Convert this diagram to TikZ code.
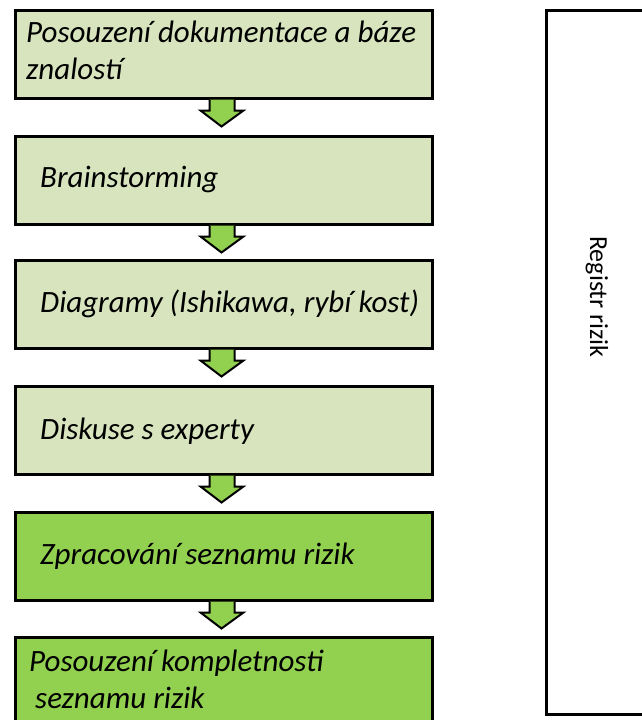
\documentclass[tikz,border=0pt]{standalone}
\usepackage{fontspec}
\setmainfont{Carlito}
\usetikzlibrary{calc}
\definecolor{palegreen}{HTML}{D7E4BD}
\definecolor{leafgreen}{HTML}{92D050}
\tikzset{
  stagebox/.style={draw=black, line width=3pt, fill=palegreen, minimum width=417pt,
    minimum height=88pt, inner sep=0pt, anchor=north west},
  finalbox/.style={stagebox, fill=leafgreen},
  stagetext/.style={font=\fontsize{31}{37}\selectfont\itshape, align=left, anchor=west, inner sep=0pt},
  blockarrow/.style={draw=black, line width=2pt, fill=leafgreen, line join=miter},
}
% block arrow hanging from the lower edge of box #1 down to box #2
\newcommand\stagearrow[2]{%
  \draw[blockarrow] ($(#1.south)+(-14,0)$) -- ++(0,11) -- ++(-9,0)
    -- ($(#1.south)+(-2,27)$) -- ($(#1.south)+(20,11)$) -- ++(-9,0)
    -- ($(#1.south)+(11,0)$);
}
\begin{document}
\begin{tikzpicture}[x=1pt,y=-1pt]
\useasboundingbox (0,0) rectangle (641,720);
% register box on the right
\node[draw=black, line width=3pt, minimum width=130pt, minimum height=704pt, inner sep=0pt,
  anchor=north west] (reg) at (544.5,8.5) {};
\node[font=\fontsize{26}{30}\selectfont, rotate=-90, inner sep=0pt] (regtext) at (597,297) {Registr rizik};
% process boxes
\node[stagebox] (b1) at (13.5,8.5) {};
\node[stagebox] (b2) at (13.5,134.5) {};
\node[stagebox] (b3) at (13.5,258.5) {};
\node[stagebox] (b4) at (13.5,384.5) {};
\node[finalbox] (b5) at (13.5,510.5) {};
\node[finalbox, minimum height=120pt] (b6) at (13.5,635.5) {};
\stagearrow{b1}{b2}
\stagearrow{b2}{b3}
\stagearrow{b3}{b4}
\stagearrow{b4}{b5}
\stagearrow{b5}{b6}
% labels
\node[stagetext] (t1) at (26,50) {Posouzení dokumentace a báze\\znalostí};
\node[stagetext] (t2) at (40,179) {Brainstorming};
\node[stagetext] (t3) at (40,304) {Diagramy (Ishikawa, rybí kost)};
\node[stagetext] (t4) at (40,431) {Diskuse s experty};
\node[stagetext] (t5) at (40,556) {Zpracování seznamu rizik};
\node[stagetext] (t6) at (29,679) {Posouzení kompletnosti\\\hspace*{6pt}seznamu rizik};
\end{tikzpicture}
\end{document}
